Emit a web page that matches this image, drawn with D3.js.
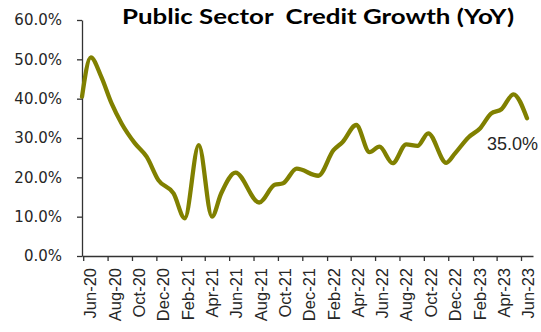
<!DOCTYPE html>
<html>
<head>
<meta charset="utf-8">
<script src="https://cdn.jsdelivr.net/npm/d3@7"></script>
<style>
  html, body { margin: 0; padding: 0; background: #fff; }
  svg { display: block; }
</style>
</head>
<body>
<svg id="chart" width="541" height="332"></svg>
<script>
// Public sector credit growth, year on year (%), fortnightly readings
const dates = [
  "2020-05-29", "2020-06-20", "2020-07-16", "2020-08-11", "2020-09-05",
  "2020-10-08", "2020-11-07", "2020-12-06", "2021-01-13", "2021-02-10",
  "2021-03-17", "2021-04-19", "2021-05-12", "2021-06-17", "2021-08-15",
  "2021-09-23", "2021-10-14", "2021-11-17", "2022-01-10", "2022-02-17",
  "2022-03-12", "2022-04-15", "2022-05-18", "2022-06-12", "2022-07-15",
  "2022-08-18", "2022-09-15", "2022-10-12", "2022-11-26", "2022-12-18",
  "2023-01-21", "2023-02-19", "2023-03-18", "2023-04-13", "2023-05-13",
  "2023-06-16"
];
const growth = [
  40.5, 50.5, 45.6, 38.8, 33.7,
  28.7, 25.2, 19.3, 15.9, 9.6,
  28.2, 10.0, 15.9, 21.2, 13.6,
  18.1, 18.5, 22.2, 20.4, 26.9,
  29.0, 33.3, 26.4, 27.8, 23.6,
  28.4, 28.0, 31.2, 23.7, 26.1,
  30.2, 32.5, 36.2, 37.3, 41.1,
  35.0
];
const xTickLabels = [
  "Jun-20", "Aug-20", "Oct-20", "Dec-20", "Feb-21", "Apr-21", "Jun-21",
  "Aug-21", "Oct-21", "Dec-21", "Feb-22", "Apr-22", "Jun-22", "Aug-22",
  "Oct-22", "Dec-22", "Feb-23", "Apr-23", "Jun-23"
];
const yTicks = [0, 10, 20, 30, 40, 50, 60];
const title = "Public Sector  Credit Growth (YoY)";

const parseDay = d3.timeParse("%Y-%m-%d");
const parseMonth = d3.timeParse("%b-%y");
const data = dates.map((d, i) => ({ date: parseDay(d), value: growth[i] }));
const tickDates = xTickLabels.map(parseMonth);

const svg = d3.select("#chart");
const axisColor = "#333";

const x = d3.scaleTime()
  .domain([parseDay("2020-05-29"), parseDay("2023-07-01")])
  .range([82, 533]);
const y = d3.scaleLinear().domain([0, 60]).range([256, 20]);

// Y axis
const yAxis = svg.append("g")
  .attr("transform", "translate(82,0)")
  .call(d3.axisLeft(y)
    .tickValues(yTicks)
    .tickSize(5)
    .tickSizeOuter(0)
    .tickPadding(15)
    .tickFormat(d => d.toFixed(1) + "%"));
yAxis.select(".domain").attr("stroke", axisColor).attr("stroke-width", 1.3);
yAxis.selectAll(".tick line").attr("stroke", axisColor).attr("stroke-width", 1.3);
yAxis.selectAll(".tick text")
  .attr("fill", "#262626")
  .style("font-family", "'DejaVu Sans', sans-serif")
  .style("font-size", "15px");

// X axis with rotated month labels
const xAxis = svg.append("g")
  .attr("transform", "translate(0,256)")
  .call(d3.axisBottom(x)
    .tickValues(tickDates)
    .tickSize(5)
    .tickSizeOuter(0)
    .tickFormat((d, i) => xTickLabels[i]));
xAxis.select(".domain").attr("stroke", axisColor).attr("stroke-width", 1.3);
xAxis.selectAll(".tick line").attr("stroke", axisColor).attr("stroke-width", 1.3);
xAxis.selectAll(".tick text")
  .attr("fill", "#262626")
  .attr("text-anchor", "end")
  .attr("dy", null)
  .attr("y", 0)
  .attr("transform", "translate(12.5,12) rotate(-90)")
  .style("font-family", "'Liberation Sans', Arial, sans-serif")
  .style("font-size", "16.5px");

// Growth line
const line = d3.line()
  .x(d => x(d.date))
  .y(d => y(d.value))
  .curve(d3.curveMonotoneX);

svg.append("path")
  .datum(data)
  .attr("fill", "none")
  .attr("stroke", "#808000")
  .attr("stroke-width", 4.3)
  .attr("stroke-linecap", "round")
  .attr("stroke-linejoin", "round")
  .attr("d", line);

// Label on the latest reading
const last = data[data.length - 1];
svg.append("text")
  .attr("x", x(last.date) - 40)
  .attr("y", y(last.value) + 32)
  .attr("fill", "#262626")
  .style("font-family", "'Liberation Sans', Arial, sans-serif")
  .style("font-size", "18px")
  .text(last.value.toFixed(1) + "%");

// Title
svg.append("text")
  .attr("x", 122)
  .attr("y", 24)
  .attr("fill", "#000")
  .attr("textLength", 392)
  .attr("lengthAdjust", "spacingAndGlyphs")
  .style("white-space", "pre")
  .style("font-family", "Lato, 'DejaVu Sans', sans-serif")
  .style("font-weight", "bold")
  .style("font-size", "21px")
  .text(title);
</script>
</body>
</html>
